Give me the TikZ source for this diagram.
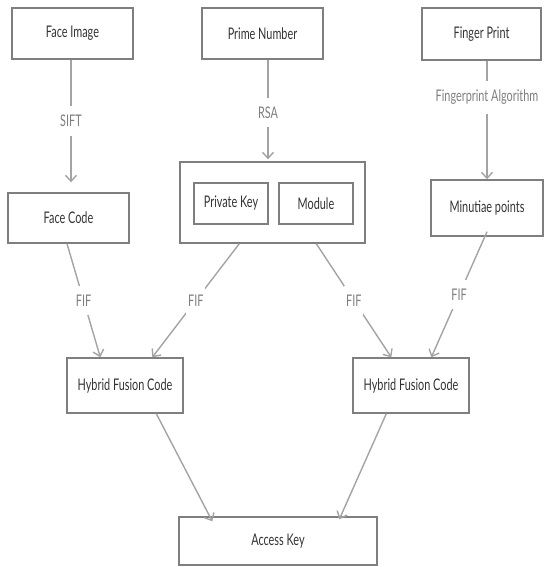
\documentclass[tikz,border=0pt]{standalone}
\usepackage{fontspec}
\setmainfont[FakeStretch=0.68]{Lato}
\usetikzlibrary{arrows.meta,calc}
\definecolor{boxgray}{HTML}{7F7F7F}
\definecolor{arrgray}{HTML}{A3A3A3}
\definecolor{txtgray}{HTML}{333333}
\tikzset{
  blk/.style={draw=boxgray, line width=1.4pt, minimum width=#1, text=txtgray, inner sep=0pt},
  link/.style={draw=arrgray, line width=1.4pt, -{Straight Barb[length=6pt,width=11pt,line width=1.4pt]}},
  lbl/.style={fill=white, text=boxgray, inner xsep=2pt, inner ysep=9pt}
}

\begin{document}
\begin{tikzpicture}[x=1pt,y=-1pt,font=\fontsize{16}{18}\selectfont]
			%%%%% START %%%%%
			\useasboundingbox (0,0) rectangle (547,567);

			\node[blk=121pt, minimum height=51pt] (face) at (72.5,33.5) {Face Image};
			\node[blk=121pt, minimum height=51pt] (prime) at (262.5,33.5) {Prime Number};
			\node[blk=119pt, minimum height=52pt] (finger) at (481.5,34) {Finger Print};

			\node[blk=121pt, minimum height=50pt] (facecode) at (68.5,218) {Face Code};
			\node[blk=185pt, minimum height=81pt] (keybox) at (272.5,202.5) {};
			\node[blk=74pt, minimum height=41pt] (privkey) at (231,203.5) {Private Key};
			\node[blk=74pt, minimum height=41pt] (module) at (316,203.5) {Module};
			\node[blk=112pt, minimum height=56pt] (minutiae) at (487,208) {Minutiae points};

			\node[blk=116pt, minimum height=55pt] (hfcleft) at (125,385.5) {Hybrid Fusion Code};
			\node[blk=116pt, minimum height=55pt] (hfcright) at (411,385.5) {Hybrid Fusion Code};

			\node[blk=198pt, minimum height=48pt] (access) at (278,541) {Access Key};

			% extraction
			\draw[link] (face.south -| 71,0) -- node[lbl] {SIFT} ($(facecode.north -| 71,0)+(0,-10)$);
			\draw[link] (prime.south -| 268,0) -- node[lbl, pos=0.53] {RSA} ($(keybox.north -| 268,0)+(0,-2)$);
			\draw[link] (finger.south -| 487,0) -- node[lbl, pos=0.31] {Fingerprint Algorithm} (minutiae.north -| 487,0);

			% fusion
			\draw[link] ([xshift=-1.5pt]facecode.south) -- node[lbl] {FIF} ([xshift=34pt]hfcleft.north west);
			\draw[link] ([xshift=60pt]keybox.south west) -- node[lbl] {FIF} ([xshift=86pt]hfcleft.north west);
			\draw[link] ([xshift=137pt]keybox.south west) -- node[lbl] {FIF} ([xshift=39pt]hfcright.north west);
			\draw[link] ([yshift=5pt]minutiae.south) -- node[lbl] {FIF} ([xshift=79pt]hfcright.north west);

			% key
			\draw[link] ([xshift=90pt]hfcleft.south west) -- ([xshift=34pt,yshift=-5pt]access.north west);
			\draw[link] ([xshift=34pt]hfcright.south west) -- ([xshift=161pt,yshift=-3pt]access.north west);

			%%%%% END %%%%%
\end{tikzpicture}
\end{document}
